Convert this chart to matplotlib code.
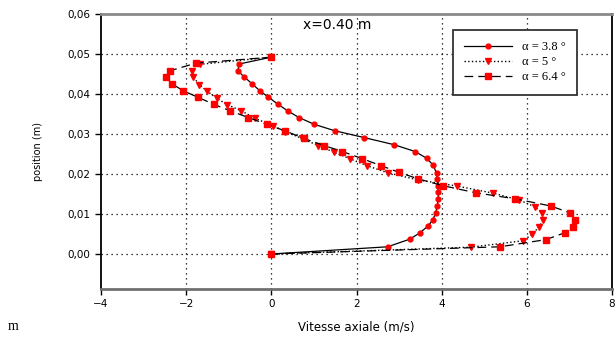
import matplotlib
matplotlib.use('Agg')
import matplotlib.pyplot as plt
from matplotlib.ticker import FuncFormatter

# alpha = 3.8 deg (circles, solid)
u_38 = [0.0, 2.73, 3.25, 3.49, 3.68, 3.79, 3.86, 3.90, 3.92, 3.92, 3.92, 3.90,
        3.88, 3.80, 3.65, 3.38, 2.89, 2.18, 1.49, 1.01, 0.65, 0.38, 0.16, -0.07,
        -0.27, -0.46, -0.64, -0.79, -0.75, 0.0]
y_38 = [0.0, 0.0018, 0.0037, 0.0053, 0.0070, 0.0085, 0.0103, 0.0121, 0.0138,
        0.0154, 0.0171, 0.0187, 0.0202, 0.0222, 0.0239, 0.0256, 0.0273, 0.0291,
        0.0308, 0.0324, 0.0341, 0.0358, 0.0374, 0.0392, 0.0408, 0.0426, 0.0443,
        0.0458, 0.0475, 0.0492]

# alpha = 5 deg (triangles, dotted)
u_5 = [0.0, 4.68, 5.91, 6.13, 6.29, 6.38, 6.36, 6.19, 5.82, 5.21, 4.35, 3.45,
       2.73, 2.24, 1.85, 1.48, 1.10, 0.71, 0.33, 0.03, -0.38, -0.71, -1.03,
       -1.28, -1.52, -1.69, -1.83, -1.87, -1.68, 0.0]
y_5 = [0.0, 0.0017, 0.0033, 0.0050, 0.0068, 0.0085, 0.0102, 0.0118, 0.0135,
       0.0152, 0.0170, 0.0185, 0.0203, 0.0221, 0.0238, 0.0254, 0.0271, 0.0289,
       0.0306, 0.0321, 0.0339, 0.0358, 0.0373, 0.0389, 0.0408, 0.0423, 0.0442,
       0.0458, 0.0474, 0.0492]

# alpha = 6.4 deg (squares, dashed)
u_64 = [0.0, 5.37, 6.45, 6.89, 7.08, 7.13, 7.01, 6.56, 5.72, 4.80, 4.02, 3.44,
        3.0, 2.57, 2.14, 1.67, 1.24, 0.76, 0.32, -0.11, -0.54, -0.97, -1.35,
        -1.73, -2.07, -2.33, -2.48, -2.38, -1.77, 0.0]
y_64 = [0.0, 0.0018, 0.0036, 0.0053, 0.0068, 0.0085, 0.0103, 0.0120, 0.0138,
        0.0153, 0.0171, 0.0188, 0.0204, 0.0221, 0.0238, 0.0256, 0.0271, 0.0289,
        0.0308, 0.0324, 0.0341, 0.0358, 0.0374, 0.0392, 0.0408, 0.0425, 0.0442,
        0.0458, 0.0477, 0.0492]

x_ticks = [-4, -2, 0, 2, 4, 6, 8]
y_ticks = [0.0, 0.01, 0.02, 0.03, 0.04, 0.05, 0.06]

fig = plt.figure(figsize=(6.16, 3.40), dpi=100)
ax = fig.add_axes([0.164, 0.15, 0.8295, 0.809])

ax.plot(u_38, y_38, '-', color='black', lw=0.9, marker='o', ms=3.5,
        mfc='red', mec='red', label='α = 3.8 °', zorder=3)
ax.plot(u_5, y_5, ':', color='black', lw=1.0, marker='v', ms=4.5,
        mfc='red', mec='red', label='α = 5 °', zorder=3)
ax.plot(u_64, y_64, '--', color='black', lw=0.9, dashes=(7, 4), marker='s', ms=4,
        mfc='red', mec='red', label='α = 6.4 °', zorder=3)

ax.set_xlim(-4, 8)
ax.set_ylim(-0.00875, 0.06)
ax.set_xticks(x_ticks)
ax.set_yticks(y_ticks)
ax.yaxis.set_major_formatter(FuncFormatter(lambda v, p: f'{v:.2f}'.replace('.', ',')))
ax.tick_params(direction='out', length=4, width=1, labelsize=7.5, colors='black')

# dotted grid, not on the border lines
for xv in x_ticks[1:-1]:
    ax.axvline(xv, color='black', ls=(0, (1, 3)), lw=0.9, zorder=1)
for yv in y_ticks[:-1]:
    ax.axhline(yv, color='black', ls=(0, (1, 3)), lw=0.9, zorder=1)

ax.spines['left'].set_linewidth(1.3)
ax.spines['right'].set_linewidth(1.3)
ax.spines['top'].set_color('#8a8a8a')
ax.spines['top'].set_linewidth(2)
ax.spines['bottom'].set_color('#707070')
ax.spines['bottom'].set_linewidth(2)

ax.set_xlabel('Vitesse axiale (m/s)', fontsize=8.5, labelpad=8)
ax.set_ylabel('position (m)', fontsize=7, labelpad=18)

ax.text(0.75, 0.0572, 'x=0.40 m', fontsize=10, va='center', ha='left')

leg = ax.legend(loc='upper right', bbox_to_anchor=(0.943, 0.965), fancybox=False,
                prop={'family': 'Liberation Serif', 'size': 9}, handlelength=3.8,
                labelspacing=0.25, borderpad=0.9, framealpha=1)
leg.get_frame().set_edgecolor('#333333')
leg.get_frame().set_linewidth(1.3)

fig.text(0.013, 0.04, 'm', fontsize=10, family='Liberation Serif', va='center')

fig.savefig('out.png', dpi=100, facecolor='white')
